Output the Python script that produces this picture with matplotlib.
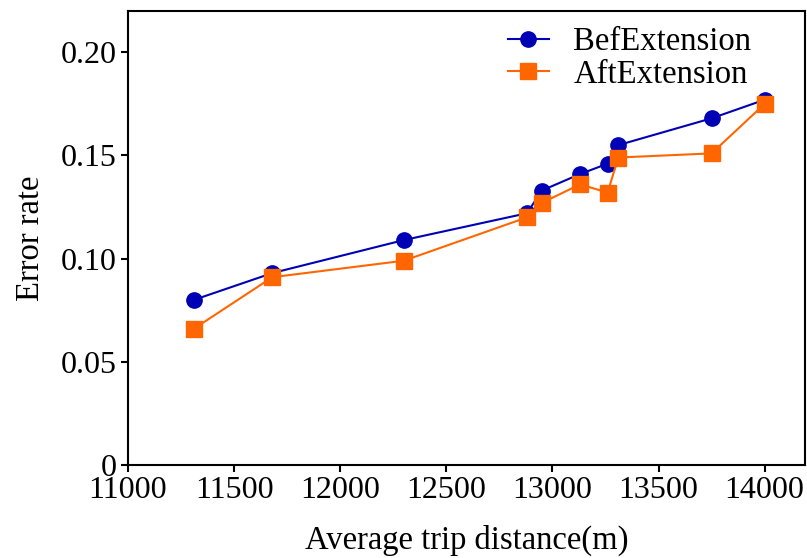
import numpy as np
import matplotlib.pyplot as plt

plt.rcParams['font.family'] = ['Liberation Serif', 'DejaVu Serif']

# average trip distance (m)
dist = [11310, 11680, 12300, 12880, 12950, 13130, 13260, 13310, 13750, 14000]
bef = [0.080, 0.093, 0.109, 0.122, 0.133, 0.141, 0.146, 0.155, 0.168, 0.177]
aft = [0.066, 0.091, 0.099, 0.120, 0.127, 0.136, 0.132, 0.149, 0.151, 0.175]

fig = plt.figure(figsize=(8.07, 5.58), dpi=100)
ax = fig.add_axes([128/807, 1-465/558, (805-128)/807, (465-11)/558])

ax.plot(dist, bef, color="#0000b4", marker="o", markersize=11, linewidth=1.5, label="BefExtension")
ax.plot(dist, aft, color="#ff6600", marker="s", markersize=11, linewidth=1.5, label="AftExtension")

ax.set_xlim(11000, 14190)
ax.set_ylim(0, 0.22)
ax.set_xticks([11000, 11500, 12000, 12500, 13000, 13500, 14000])
ax.set_yticks([0, 0.05, 0.10, 0.15, 0.20])
ax.set_yticklabels(["0", "0.05", "0.10", "0.15", "0.20"])
ax.tick_params(labelsize=23, width=1.5, length=5, pad=3)
for s in ax.spines.values():
    s.set_linewidth(1.5)

ax.set_xlabel("Average trip distance(m)", fontsize=23.5, labelpad=14)
ax.set_ylabel("Error rate", fontsize=23.5, labelpad=11)
ax.legend(loc="upper left", bbox_to_anchor=(508/807, 1-27/558), bbox_transform=fig.transFigure,
          frameon=False, fontsize=23.5, handlelength=1.25, handletextpad=0.75,
          borderpad=0, borderaxespad=0, labelspacing=0.05)

fig.savefig("out.png", dpi=100)
